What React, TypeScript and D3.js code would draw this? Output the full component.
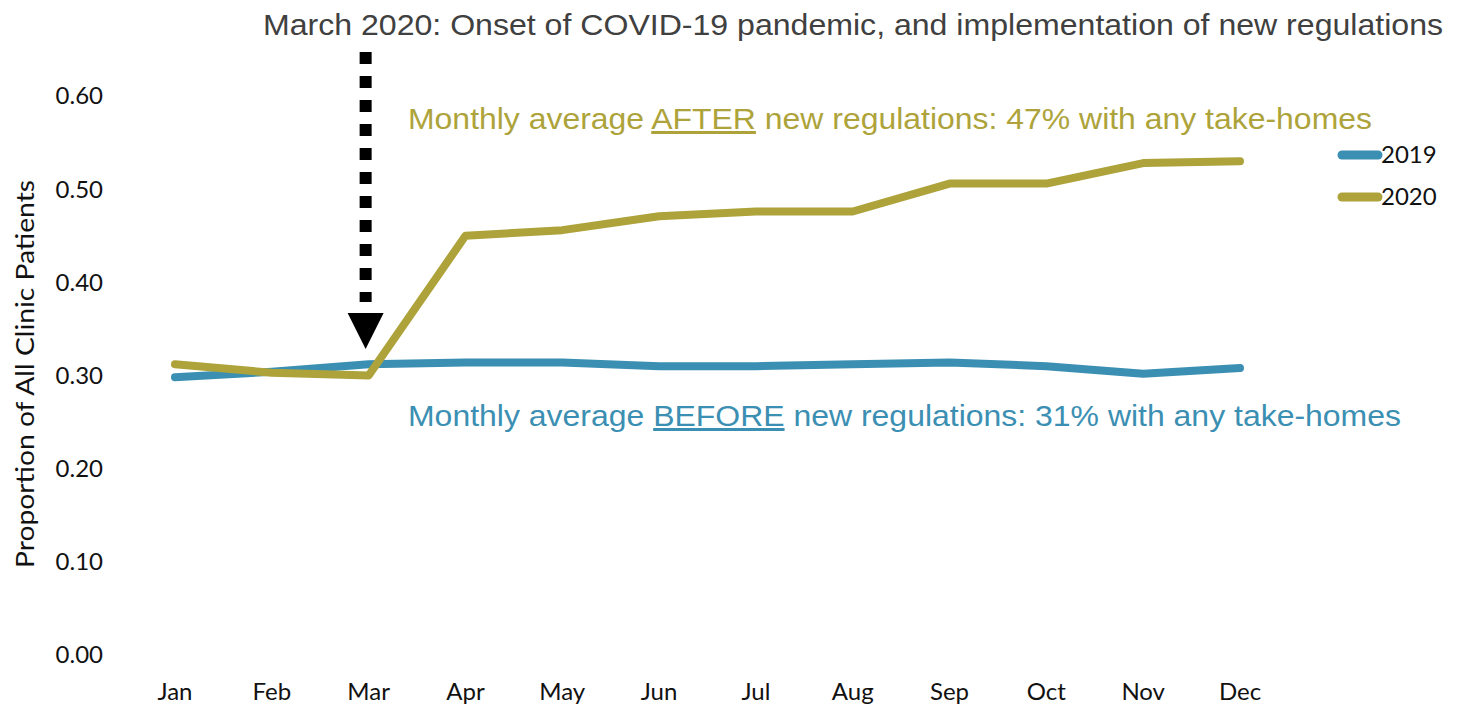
import React from "react";
import * as d3 from "d3";

const months = ["Jan", "Feb", "Mar", "Apr", "May", "Jun", "Jul", "Aug", "Sep", "Oct", "Nov", "Dec"];
const values2019 = [0.298, 0.304, 0.312, 0.314, 0.314, 0.310, 0.310, 0.312, 0.314, 0.310, 0.302, 0.308];
const values2020 = [0.312, 0.303, 0.300, 0.450, 0.456, 0.471, 0.476, 0.476, 0.506, 0.506, 0.528, 0.530];
const yTicks = [0, 0.1, 0.2, 0.3, 0.4, 0.5, 0.6];
const seriesNames = ["2019", "2020"];
const colors = ["#3b8fb2", "#ada33a"];

const W = 1460, H = 709;
const axisFont = "Lato, 'Noto Sans', sans-serif";
const noteFont = "'Liberation Sans Narrow', 'Liberation Sans', Arial, sans-serif";

export default function App() {
  const x = d3.scalePoint<string>().domain(months).range([175, 1240]);
  const y = d3.scaleLinear().domain([0, 0.6]).range([655, 96]);
  const line = d3.line<number>().x((_, i) => x(months[i])!).y((d) => y(d));
  const series = [values2019, values2020];
  const arrowX = x("Mar")! - 3;

  return (
    <svg width={W} height={H} style={{ position: "absolute", left: 0, top: 0, display: "block", background: "#fff" }}>
      {yTicks.map((t) => (
        <text key={t} x={103} y={y(t)} dy="0.35em" textAnchor="end" fontFamily={axisFont} fontSize={24} fill="#111">
          {t.toFixed(2)}
        </text>
      ))}
      {months.map((m) => (
        <text key={m} x={x(m)!} y={700} textAnchor="middle" fontFamily={axisFont} fontSize={24} fill="#111">
          {m}
        </text>
      ))}
      <text transform={`translate(34,374) rotate(-90)`} textAnchor="middle" fontFamily={axisFont} fontSize={25} fill="#111"
        textLength={388} lengthAdjust="spacingAndGlyphs">
        Proportion of All Clinic Patients
      </text>

      {series.map((s, i) => (
        <path key={i} d={line(s)!} fill="none" stroke={colors[i]} strokeWidth={8} strokeLinecap="round" strokeLinejoin="round" />
      ))}

      {/* Legend */}
      {seriesNames.map((n, i) => (
        <g key={n}>
          <line x1={1342} x2={1378} y1={155 + i * 42} y2={155 + i * 42} stroke={colors[i]} strokeWidth={9} strokeLinecap="round" />
          <text x={1381} y={155 + i * 42} dy="0.35em" fontFamily={axisFont} fontSize={24} fill="#111">{n}</text>
        </g>
      ))}

      {/* Arrow */}
      <line x1={arrowX} x2={arrowX} y1={52} y2={302} stroke="#000" strokeWidth={12} strokeDasharray="12 12" />
      <path d={`M${arrowX - 18},313 L${arrowX + 18},313 L${arrowX},349 Z`} fill="#000" />

      {/* Annotations */}
      <text x={263} y={35} fontFamily={noteFont} fontSize={30} fill="#404040" textLength={1180} lengthAdjust="spacingAndGlyphs">
        March 2020: Onset of COVID-19 pandemic, and implementation of new regulations
      </text>
      <text x={408} y={129} fontFamily={noteFont} fontSize={30} fill={colors[1]} textLength={964} lengthAdjust="spacingAndGlyphs">
        Monthly average <tspan style={{ textDecoration: "underline" }}>AFTER</tspan> new regulations: 47% with any take-homes
      </text>
      <text x={408} y={426} fontFamily={noteFont} fontSize={30} fill={colors[0]} textLength={993} lengthAdjust="spacingAndGlyphs">
        Monthly average <tspan style={{ textDecoration: "underline" }}>BEFORE</tspan> new regulations: 31% with any take-homes
      </text>
    </svg>
  );
}
